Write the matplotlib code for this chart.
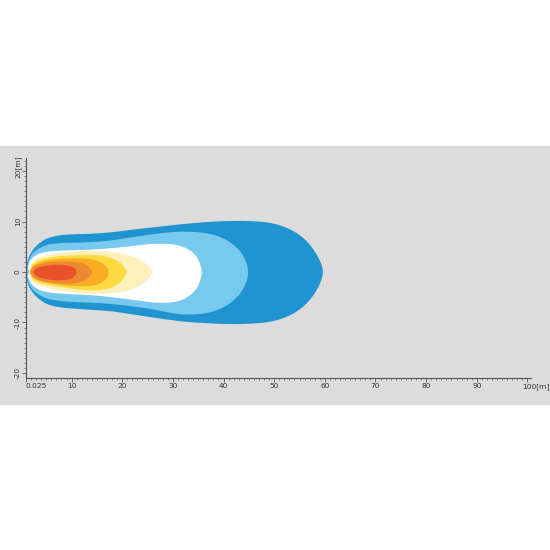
import matplotlib
matplotlib.use("Agg")
import matplotlib.pyplot as plt
import numpy as np
from matplotlib.path import Path
from matplotlib.patches import PathPatch, Rectangle, Ellipse
from matplotlib.transforms import ScaledTranslation

# beam zones, outermost first: outline points (distance [m], lateral [m])
zone_dark_blue = [(1.1, 1.0), (1.4, 2.5), (1.9, 3.6), (2.7, 4.8), (3.9, 5.9), (5.3, 6.7), (7.2, 7.2),
                  (9.7, 7.45), (14.0, 7.6), (18.0, 7.9), (22.0, 8.4), (26.1, 8.85), (31.0, 9.4),
                  (36.0, 9.85), (40.6, 10.1), (45.0, 10.1), (48.5, 9.85), (51.3, 9.2), (53.8, 8.1),
                  (55.9, 6.6), (57.5, 4.8), (58.7, 2.9), (59.35, 1.4), (59.6, 0.0),
                  (59.35, -1.4), (58.7, -3.0), (57.5, -4.9), (55.9, -6.7), (53.8, -8.2), (51.3, -9.3),
                  (48.5, -9.95), (45.0, -10.25), (40.6, -10.3), (36.0, -10.1), (31.0, -9.7),
                  (26.1, -9.0), (22.0, -8.4), (18.0, -7.8), (14.0, -7.5), (9.7, -7.2), (7.2, -6.9),
                  (5.3, -6.4), (3.9, -5.6), (2.7, -4.5), (1.9, -3.4), (1.4, -2.4), (1.1, -1.0),
                  (1.0, 0.0)]
zone_light_blue = [(1.2, 1.0), (1.6, 2.4), (2.3, 3.7), (3.6, 4.7), (5.3, 5.4), (7.5, 5.7), (9.7, 5.8),
                   (14.0, 5.95), (18.0, 6.3), (22.0, 6.9), (26.1, 7.5), (29.0, 7.85), (32.0, 8.0),
                   (35.5, 7.85), (38.6, 7.2), (41.1, 6.0), (42.9, 4.5), (44.0, 3.0), (44.6, 1.5),
                   (44.85, 0.0),
                   (44.6, -1.6), (44.0, -3.1), (42.9, -4.7), (41.1, -6.3), (38.6, -7.6), (35.5, -8.3),
                   (32.0, -8.4), (29.0, -8.0), (26.1, -7.4), (22.0, -6.8),
                   (18.0, -6.35), (14.0, -6.1), (9.7, -5.9), (7.5, -5.7), (5.3, -5.3), (3.6, -4.5),
                   (2.3, -3.5), (1.6, -2.3), (1.2, -1.0), (1.1, 0.0)]
zone_white = [(1.4, 0.8), (1.7, 2.0), (2.5, 3.0), (3.8, 3.7), (6.3, 4.15), (10.0, 4.3), (14.0, 4.45),
              (18.0, 4.75), (22.0, 5.15), (25.0, 5.5), (27.5, 5.6), (29.8, 5.5), (31.8, 5.05),
              (33.5, 4.2), (34.7, 3.0), (35.4, 1.5), (35.7, 0.0),
              (35.4, -1.6), (34.7, -3.2), (33.5, -4.5), (31.8, -5.5), (29.8, -6.0), (27.5, -6.1),
              (25.0, -5.9), (22.0, -5.5), (18.0, -5.0), (14.0, -4.6), (10.0, -4.4), (6.3, -4.15),
              (3.8, -3.6), (2.5, -2.8), (1.7, -1.8), (1.4, -0.8), (1.3, 0.0)]
zone_light_yellow = [(1.8, 0.6), (2.2, 1.8), (3.5, 2.8), (6.3, 3.55), (9.9, 4.0), (13.0, 4.2),
                     (16.5, 4.1), (19.4, 3.75), (21.7, 3.2), (23.6, 2.4), (25.1, 1.3), (25.9, 0.0),
                     (25.1, -1.4), (23.6, -2.6), (21.7, -3.5), (19.4, -4.05), (16.5, -4.3),
                     (13.0, -4.3), (9.9, -4.0), (6.3, -3.4), (3.5, -2.6), (2.2, -1.7), (1.8, -0.6),
                     (1.6, 0.0)]
zone_yellow = [(1.9, 0.5), (2.3, 1.5), (3.5, 2.3), (6.3, 3.0), (9.9, 3.3), (13.0, 3.4), (15.8, 3.25),
               (17.9, 2.75), (19.5, 1.9), (20.4, 0.9), (20.8, 0.0),
               (20.4, -1.0), (19.5, -2.1), (17.9, -3.1), (15.8, -3.55), (13.0, -3.6), (9.9, -3.25),
               (6.3, -2.75), (3.5, -2.1), (2.3, -1.4), (1.9, -0.5), (1.7, 0.0)]
zone_amber = [(2.0, 0.5), (2.5, 1.3), (4.0, 2.0), (6.3, 2.5), (9.9, 2.7), (12.9, 2.65), (15.0, 2.25),
              (16.4, 1.5), (17.1, 0.7), (17.3, 0.0),
              (17.1, -0.8), (16.4, -1.7), (15.0, -2.5), (12.9, -2.8), (9.9, -2.75), (6.3, -2.35),
              (4.0, -1.8), (2.5, -1.2), (2.0, -0.5), (1.8, 0.0)]
zone_orange = [(2.1, 0.5), (2.6, 1.1), (3.8, 1.6), (5.9, 2.0), (8.9, 2.1), (11.4, 1.9), (12.9, 1.4),
               (13.7, 0.7), (14.0, 0.0),
               (13.7, -0.7), (12.9, -1.5), (11.4, -2.1), (8.9, -2.3), (5.9, -2.1), (3.8, -1.7),
               (2.6, -1.1), (2.1, -0.5), (1.9, 0.0)]
zone_red = [(2.7, 0.5), (3.4, 0.9), (4.5, 1.2), (6.3, 1.4), (8.4, 1.4), (9.9, 1.1), (10.7, 0.6),
            (11.0, 0.0),
            (10.7, -0.6), (9.9, -1.3), (8.4, -1.6), (6.3, -1.6), (4.5, -1.3), (3.4, -1.0),
            (2.7, -0.5), (2.5, 0.0)]

zones = [zone_dark_blue, zone_light_blue, zone_white, zone_light_yellow,
         zone_yellow, zone_amber, zone_orange, zone_red]
colors = ["#1f94d1", "#77c9ee", "#ffffff", "#fdf0bc", "#fdd942", "#f8ae20", "#ef8832", "#e8512a"]

x_ticks = [1, 10, 20, 30, 40, 50, 60, 70, 80, 90, 100]
x_labels = ["0.025", "10", "20", "30", "40", "50", "60", "70", "80", "90", "100[m]"]
y_ticks = [-20, -10, 0, 10, 20]
y_labels = ["-20", "-10", "0", "10", "20[m]"]


def smooth_path(pts):
    p = np.array(pts, dtype=float)
    n = len(p)
    verts = [p[0]]
    codes = [Path.MOVETO]
    for i in range(n):
        p0, p1, p2, p3 = p[i - 1], p[i], p[(i + 1) % n], p[(i + 2) % n]
        verts += [p1 + (p2 - p0) / 6, p2 - (p3 - p1) / 6, p2]
        codes += [Path.CURVE4] * 3
    return Path(verts, codes)


fig = plt.figure(figsize=(5.5, 5.5), dpi=100, facecolor="white")
fig.add_artist(Rectangle((0, 0.2655), 1, 0.469, transform=fig.transFigure,
                         color="#dcdcdc", zorder=0))
ax = fig.add_axes([26 / 550, 1 - 378 / 550, 505 / 550, 220 / 550])
ax.set_facecolor("none")
ax.set_xlim(1.0, 100.7)
ax.set_ylim(-21.0, 22.6)

for pts, c in zip(zones, colors):
    ax.add_patch(PathPatch(smooth_path(pts), facecolor=c, edgecolor="none"))
ax.add_patch(Ellipse((1.15, 0), 0.9, 1.5, facecolor=colors[1], edgecolor="none"))

for s in ["top", "right"]:
    ax.spines[s].set_visible(False)
for s in ["left", "bottom"]:
    ax.spines[s].set_color("#555555")
    ax.spines[s].set_linewidth(0.8)

ax.set_xticks(x_ticks)
ax.set_xticklabels(x_labels)
ax.set_xticks(np.arange(1, 101, 1), minor=True)
ax.set_yticks(y_ticks)
ax.set_yticklabels(y_labels, rotation=90, va="center")
ax.set_yticks(np.arange(-20, 23, 1), minor=True)
ax.tick_params(which="major", length=2.6, width=0.6, color="#555555",
               labelsize=5.3, labelcolor="#333333", pad=1)
ax.tick_params(which="minor", length=1.6, width=0.5, color="#555555")

xl = ax.get_xticklabels()
xl[0].set_ha("left")
xl[-1].set_ha("left")
xl[-1].set_transform(xl[-1].get_transform() + ScaledTranslation(-0.05, 0, fig.dpi_scale_trans))
yl = ax.get_yticklabels()
yl[-1].set_transform(yl[-1].get_transform() + ScaledTranslation(0, 0.04, fig.dpi_scale_trans))

fig.savefig("out.png", dpi=100, facecolor="white")
